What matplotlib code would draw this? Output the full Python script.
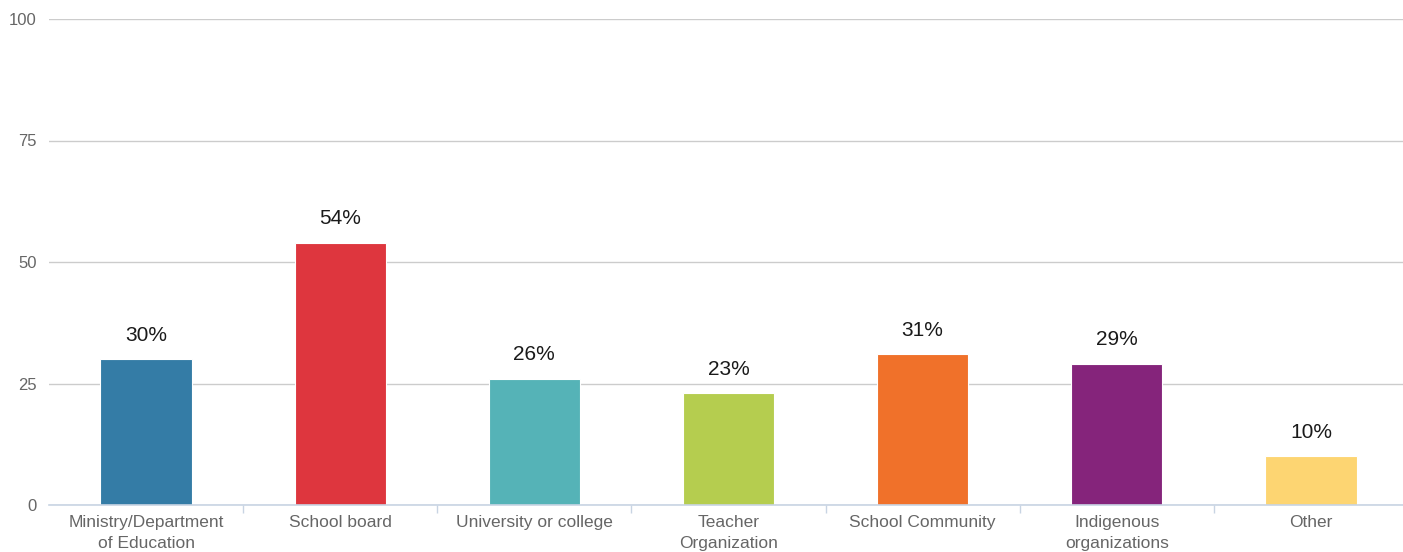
import matplotlib
matplotlib.use('Agg')
import matplotlib.pyplot as plt

categories = ["Ministry/Department\nof Education", "School board", "University or college",
              "Teacher\nOrganization", "School Community", "Indigenous\norganizations", "Other"]
values = [30, 54, 26, 23, 31, 29, 10]
colors = ["#347ca6", "#de363e", "#55b3b7", "#b5cd4f", "#f0712a", "#85247b", "#fdd572"]
yticks = [0, 25, 50, 75, 100]

plt.rcParams['font.family'] = ['Liberation Sans', 'DejaVu Sans']

fig = plt.figure(figsize=(14.03, 5.52), dpi=100)
# axes run a little past the right edge so the last slot is full width
ax = fig.add_axes([49 / 1403, 47 / 552, 1359 / 1403, 486 / 552])

x = range(len(categories))
ax.bar(x, values, width=0.47, color=colors, zorder=3, edgecolor='white', linewidth=0.8)
for xi, v in zip(x, values):
    ax.text(xi, v + 3.0, f"{v}%", ha='center', va='bottom', fontsize=15, color='#1a1a1a')

ax.set_xlim(-0.5, len(categories) - 0.5)
ax.set_ylim(0, 100)
ax.set_yticks(yticks)
ax.tick_params(axis='y', length=0, pad=9, labelsize=12, labelcolor='#666666')
ax.grid(axis='y', color='#cccccc', linewidth=1, zorder=0)

ax.set_xticks([i + 0.5 for i in range(len(categories) - 1)], minor=False)
ax.set_xticklabels([])
ax.tick_params(axis='x', length=6, color='#c8d4e3', width=1)
ax.set_xticks(list(x), minor=True)
ax.set_xticklabels(categories, minor=True, fontsize=12.5, color='#666666', linespacing=1.5)
ax.tick_params(axis='x', which='minor', length=0, pad=7)

for s in ['top', 'right', 'left']:
    ax.spines[s].set_visible(False)
ax.spines['bottom'].set_color('#c8d4e3')
ax.spines['bottom'].set_linewidth(1.2)
ax.spines['bottom'].set_zorder(4)

fig.savefig("out.png", dpi=100)
